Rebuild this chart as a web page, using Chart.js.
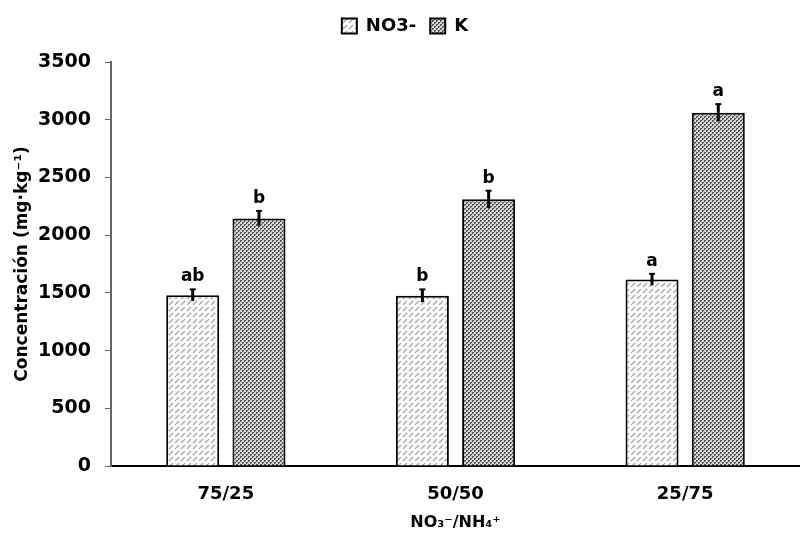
<!DOCTYPE html>
<html><head><meta charset="utf-8">
<script src="https://cdn.jsdelivr.net/npm/chart.js@4/dist/chart.umd.min.js"></script>
<style>html,body{margin:0;padding:0;background:#fff}#wrap{width:800px;height:537px}</style>
</head><body><div id="wrap"><canvas id="c" width="800" height="537"></canvas></div>
<script>
const categories = ['75/25', '50/50', '25/75'];
const seriesNames = ['NO3-', 'K'];
const no3Values = [1480, 1475, 1615];
const kValues = [2145, 2310, 3060];
const no3Errors = [50, 55, 50];
const kErrors = [65, 75, 75];
const no3Letters = ['ab', 'b', 'a'];
const kLetters = ['b', 'b', 'a'];
const yTicks = [0, 500, 1000, 1500, 2000, 2500, 3000, 3500];

const FONT = '"DejaVu Sans", "Liberation Sans", Arial, sans-serif';

function hatchPattern() {
  const c = document.createElement('canvas'); c.width = 6; c.height = 6;
  const x = c.getContext('2d');
  x.fillStyle = '#ffffff'; x.fillRect(0, 0, 6, 6);
  x.strokeStyle = '#a8a8a8'; x.lineWidth = 1.5;
  x.beginPath(); x.moveTo(1, 5); x.lineTo(5, 1); x.stroke();
  return x.createPattern(c, 'repeat');
}
function dotPattern() {
  const c = document.createElement('canvas'); c.width = 4; c.height = 4;
  const x = c.getContext('2d');
  x.fillStyle = '#d4d4d4'; x.fillRect(0, 0, 4, 4);
  x.fillStyle = '#555555';
  x.fillRect(0, 0, 2, 2); x.fillRect(2, 2, 2, 2);
  x.fillStyle = '#b4b4b4';
  x.fillRect(1, 1, 1, 1); x.fillRect(3, 3, 1, 1);
  return x.createPattern(c, 'repeat');
}

const errors = [no3Errors, kErrors];
const letters = [no3Letters, kLetters];

const errPlugin = {
  id: 'errs',
  afterInit(chart) {
    const lg = chart.legend;
    if (lg) {
      const orig = lg.fit;
      lg.fit = function () { orig.call(this); this.height += 17; };
    }
  },
  afterDatasetsDraw(chart) {
    const ctx = chart.ctx; const y = chart.scales.y;
    ctx.save();
    chart.data.datasets.forEach((ds, di) => {
      const meta = chart.getDatasetMeta(di);
      meta.data.forEach((bar, i) => {
        const v = ds.data[i], e = errors[di][i];
        const yt = y.getPixelForValue(v + e), yb = y.getPixelForValue(v - e);
        ctx.strokeStyle = '#000'; ctx.lineWidth = 3;
        ctx.beginPath(); ctx.moveTo(bar.x, yt); ctx.lineTo(bar.x, yb); ctx.stroke();
        ctx.lineWidth = 2;
        ctx.beginPath(); ctx.moveTo(bar.x - 3, yt); ctx.lineTo(bar.x + 3, yt); ctx.stroke();
        ctx.fillStyle = '#000';
        ctx.font = 'bold 17px ' + FONT;
        ctx.textAlign = 'center'; ctx.textBaseline = 'bottom';
        ctx.fillText(letters[di][i], bar.x, yt - 4);
      });
    });
    ctx.restore();
  }
};

new Chart(document.getElementById('c'), {
  type: 'bar',
  data: {
    labels: categories,
    datasets: [
      { label: seriesNames[0], data: no3Values, backgroundColor: hatchPattern(), borderColor: '#000', borderWidth: 2, borderSkipped: 'bottom' },
      { label: seriesNames[1], data: kValues, backgroundColor: dotPattern(), borderColor: '#000', borderWidth: 2, borderSkipped: 'bottom' }
    ]
  },
  options: {
    responsive: false, animation: false,
    layout: { padding: { top: 3, right: 0, left: 10, bottom: 0 } },
    datasets: { bar: { barPercentage: 0.8, categoryPercentage: 0.577 } },
    plugins: {
      legend: {
        position: 'top',
        labels: { color: '#000', font: { family: FONT, size: 18, weight: 'bold' }, boxWidth: 15, boxHeight: 15, padding: 14 }
      },
      tooltip: { enabled: false }
    },
    scales: {
      x: {
        afterFit(scale) { scale.height = 71; },
        grid: { display: false, drawTicks: false },
        border: { color: '#000', width: 2 },
        ticks: { color: '#000', padding: 18, font: { family: FONT, size: 18, weight: 'bold' } },
        title: { display: true, text: 'NO₃⁻/NH₄⁺', color: '#000', padding: { top: 0, bottom: 5 }, font: { family: FONT, size: 16, weight: 'bold' } }
      },
      y: {
        min: 0, max: 3500,
        afterFit(scale) { scale.width = 101; },
        afterBuildTicks(scale) { scale.ticks = yTicks.map(v => ({ value: v })); },
        grid: { drawOnChartArea: false, drawTicks: true, tickLength: 6, color: '#666' },
        border: { color: '#666', width: 2 },
        ticks: { color: '#000', padding: 14, font: { family: FONT, size: 19, weight: 'bold' }, callback: v => String(v) },
        title: { display: true, text: 'Concentración (mg·kg⁻¹)', color: '#000', padding: { top: 2, bottom: 0 }, font: { family: FONT, size: 17, weight: 'bold' } }
      }
    }
  },
  plugins: [errPlugin]
});
</script></body></html>
